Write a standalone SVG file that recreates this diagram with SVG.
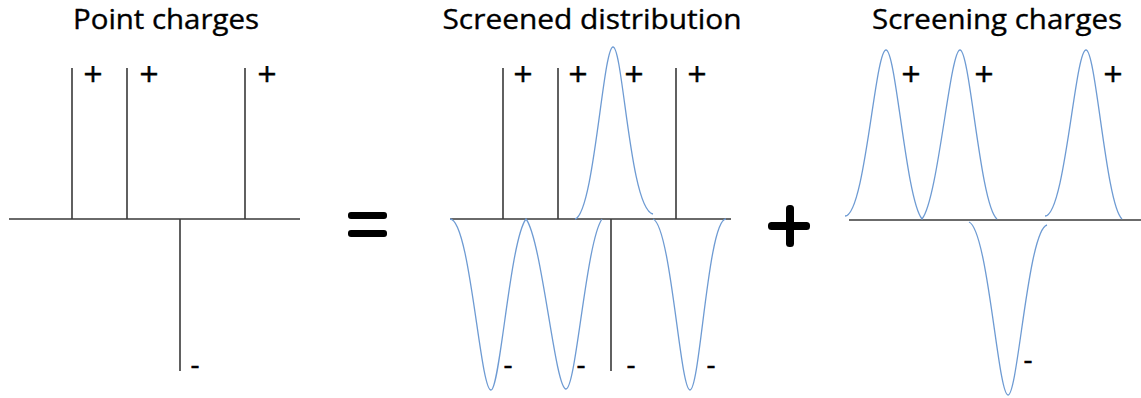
<svg xmlns="http://www.w3.org/2000/svg" width="1141" height="398" viewBox="0 0 1141 398">
<style>
.title{font-family:"Open Sans","Liberation Sans",sans-serif;font-size:27px;fill:#000;stroke:#000;stroke-width:0.35;text-anchor:middle}
.sign{font-family:"DejaVu Sans",sans-serif;font-size:25px;fill:#000;stroke:#000;stroke-width:0.6;text-anchor:middle}
.ax{stroke:#3a3a3a;stroke-width:1.6;fill:none}
.g{stroke:#6e9bd3;stroke-width:1.3;fill:none}
</style>
<rect width="1141" height="398" fill="#fff"/>
<g id="titles">
<text class="title" x="166" y="29" textLength="186" lengthAdjust="spacingAndGlyphs">Point charges</text>
<text class="title" x="592" y="29" textLength="299" lengthAdjust="spacingAndGlyphs">Screened distribution</text>
<text class="title" x="997" y="29" textLength="250" lengthAdjust="spacingAndGlyphs">Screening charges</text>
</g>
<g id="panel-point-charges">
<path class="ax" d="M9,219H300M72,68V219M127,68V219M245,68V219M180,219V371"/>
<text class="sign" x="93" y="82">+</text>
<text class="sign" x="149" y="82">+</text>
<text class="sign" x="267" y="82">+</text>
<text class="sign" x="195" y="374">-</text>
</g>
<g id="equals">
<rect x="348" y="212" width="39" height="7" rx="3" fill="#000"/>
<rect x="348" y="230" width="39" height="7" rx="3" fill="#000"/>
</g>
<g id="panel-screened">
<path class="ax" d="M450,219H731M503,68V219M558,68V219M676,68V219M611,219V371"/>
<path class="g" d="M575,219C594,214 603,47 613,47C623,47 630,210 653,214"/>
<path class="g" d="M450,219C470,219 480,390 491,390C500,390 510,240 526,219C542,240 555,389 566,389C576,389 586,242 602,219"/>
<path class="g" d="M653,219C671,226 680,390 690,390C700,390 708,219 726,219"/>
<text class="sign" x="523" y="82">+</text>
<text class="sign" x="578" y="82">+</text>
<text class="sign" x="634" y="82">+</text>
<text class="sign" x="697" y="82">+</text>
<text class="sign" x="508" y="374">-</text>
<text class="sign" x="581" y="374">-</text>
<text class="sign" x="631" y="374">-</text>
<text class="sign" x="711" y="374">-</text>
</g>
<g id="plus">
<rect x="768" y="222" width="42" height="8" rx="3.5" fill="#000"/>
<rect x="786" y="205" width="8" height="42" rx="3.5" fill="#000"/>
</g>
<g id="panel-screening">
<path class="ax" d="M849,220H1141"/>
<path class="g" d="M845,216C865,216 875,50 886,50C896,50 906,200 922,219C938,200 950,50 960,50C970,50 980,205 997,219"/>
<path class="g" d="M1045,216C1065,216 1075,50 1086,50C1096,50 1106,205 1122,219"/>
<path class="g" d="M969,222C988,230 998,395 1008,395C1018,395 1028,230 1047,225"/>
<text class="sign" x="911" y="82">+</text>
<text class="sign" x="984" y="82">+</text>
<text class="sign" x="1113" y="82">+</text>
<text class="sign" x="1028" y="369">-</text>
</g>
</svg>
